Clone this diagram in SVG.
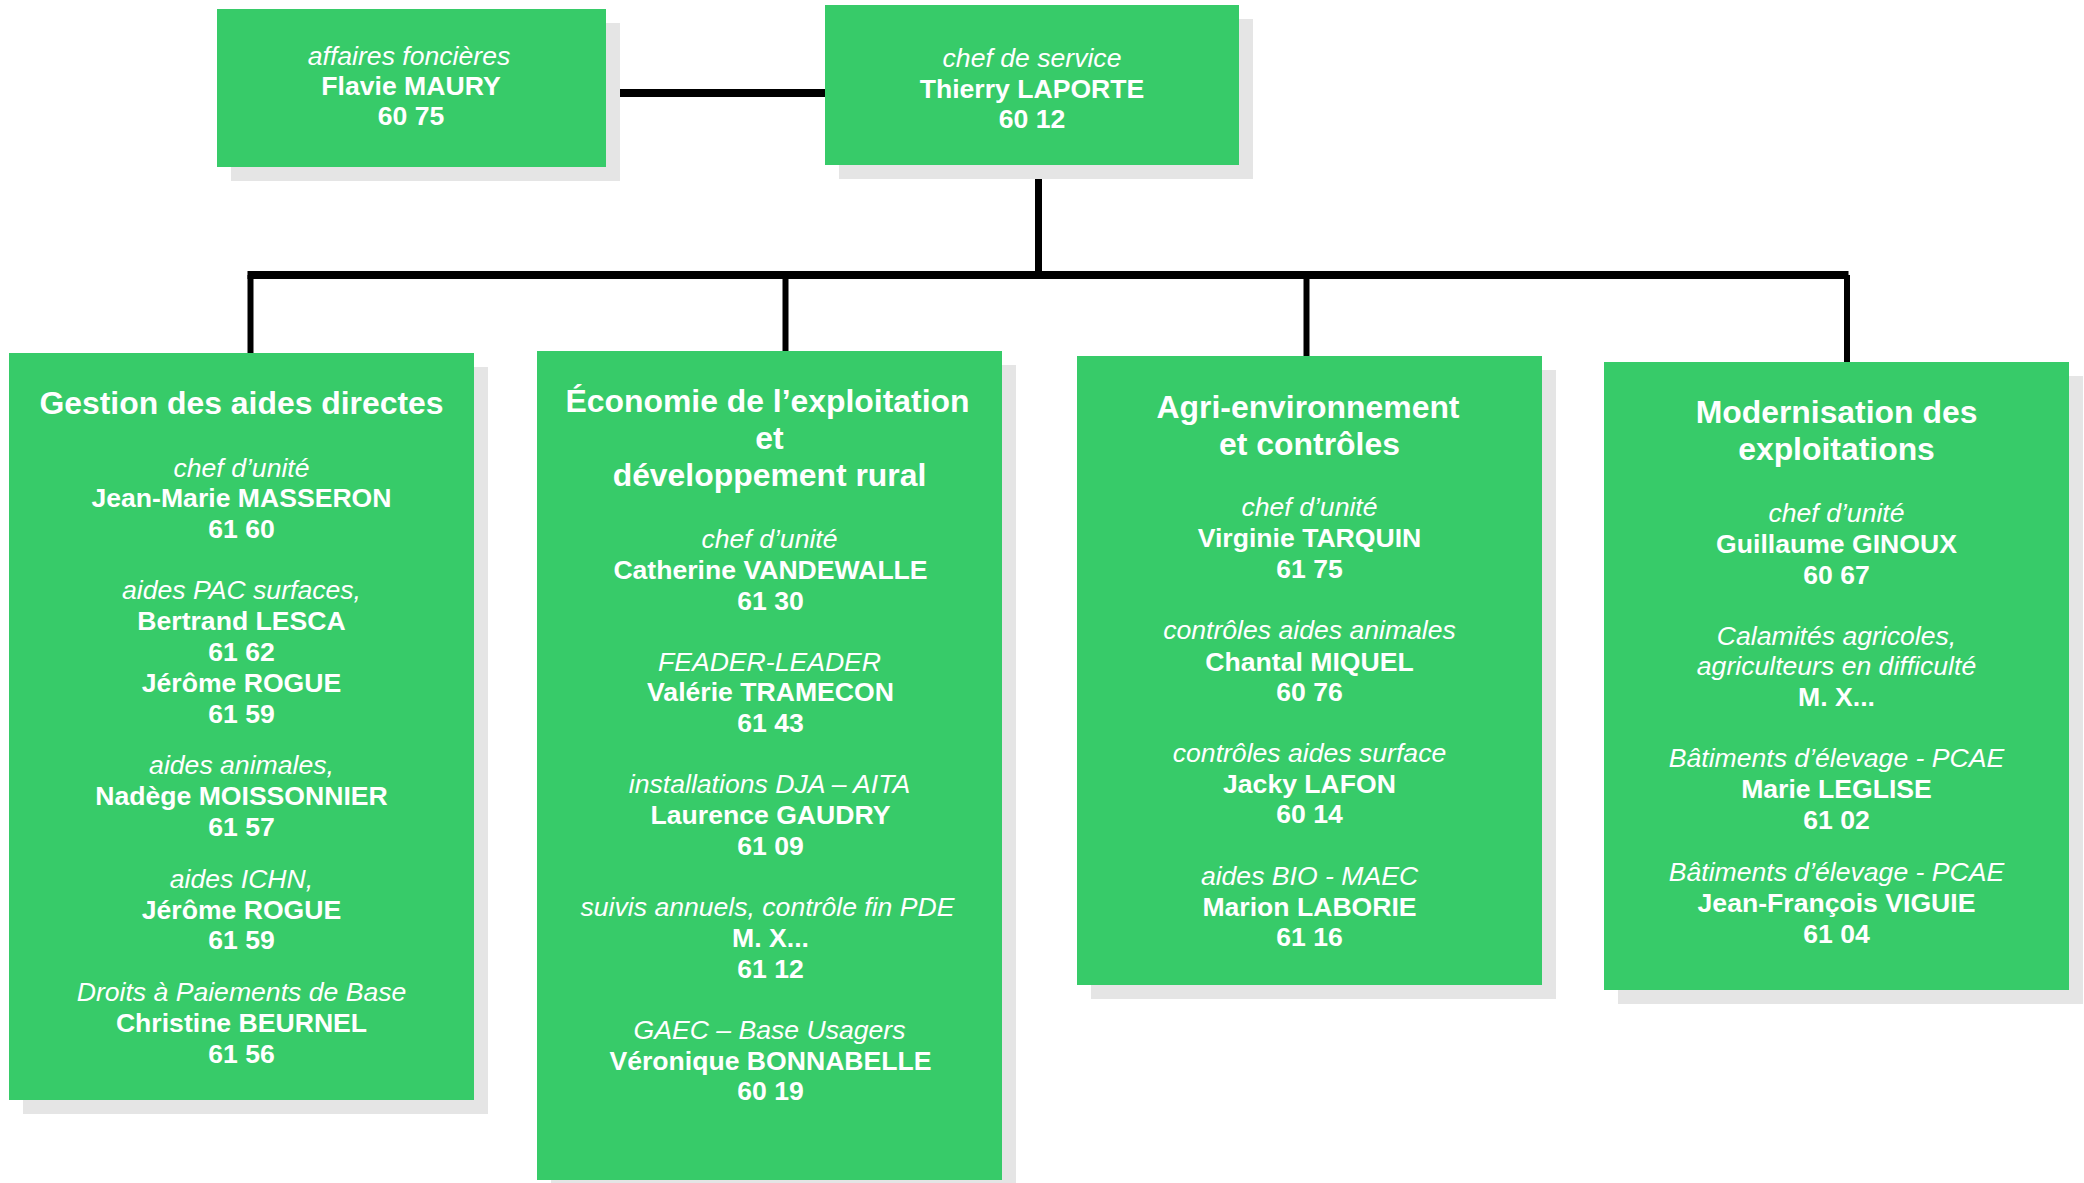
<svg xmlns="http://www.w3.org/2000/svg" width="2084" height="1183" viewBox="0 0 2084 1183">
<style>
.box{fill:#37cb69}
.sh{fill:#e5e5e5}
text{font-family:"Liberation Sans",Arial,sans-serif;fill:#ffffff;text-anchor:middle;font-size:26.6px}
.t{font-weight:bold;font-size:31.9px}
.i{font-style:italic}
.b{font-weight:bold}
.ln{stroke:#000000;fill:none}
</style>
<rect width="2084" height="1183" fill="#ffffff"/>
<g id="connectors">
<line class="ln" x1="606" y1="93" x2="826" y2="93" stroke-width="8"/>
<line class="ln" x1="1038.5" y1="165" x2="1038.5" y2="276" stroke-width="7"/>
<line class="ln" x1="247.5" y1="275" x2="1848.5" y2="275" stroke-width="8"/>
<line class="ln" x1="250.5" y1="275" x2="250.5" y2="354" stroke-width="6"/>
<line class="ln" x1="785.5" y1="275" x2="785.5" y2="352" stroke-width="6"/>
<line class="ln" x1="1306.5" y1="275" x2="1306.5" y2="357" stroke-width="6"/>
<line class="ln" x1="1847" y1="275" x2="1847" y2="363" stroke-width="6"/>
</g>
<g id="affaires">
<rect class="sh" x="231" y="23" width="389" height="158"/>
<rect class="box" x="217" y="9" width="389" height="158"/>
<text x="409" y="64.5" class="i">affaires foncières</text>
<text x="411" y="94.5" class="b">Flavie MAURY</text>
<text x="411" y="125" class="b">60 75</text>
</g>
<g id="chef">
<rect class="sh" x="839" y="19" width="414" height="160"/>
<rect class="box" x="825" y="5" width="414" height="160"/>
<text x="1032" y="66.5" class="i">chef de service</text>
<text x="1032" y="97.5" class="b">Thierry LAPORTE</text>
<text x="1032" y="128" class="b">60 12</text>
</g>
<g id="gestion">
<rect class="sh" x="23" y="367" width="465" height="747"/>
<rect class="box" x="9" y="353" width="465" height="747"/>
<text x="241.5" y="414" class="t">Gestion des aides directes</text>
<text x="241.5" y="476.5" class="i">chef d’unité</text>
<text x="241.5" y="507" class="b">Jean-Marie MASSERON</text>
<text x="241.5" y="538" class="b">61 60</text>
<text x="241.5" y="599" class="i">aides PAC surfaces,</text>
<text x="241.5" y="630" class="b">Bertrand LESCA</text>
<text x="241.5" y="661" class="b">61 62</text>
<text x="241.5" y="691.5" class="b">Jérôme ROGUE</text>
<text x="241.5" y="722.5" class="b">61 59</text>
<text x="241.5" y="774" class="i">aides animales,</text>
<text x="241.5" y="805" class="b">Nadège MOISSONNIER</text>
<text x="241.5" y="836" class="b">61 57</text>
<text x="241.5" y="888" class="i">aides ICHN,</text>
<text x="241.5" y="918.5" class="b">Jérôme ROGUE</text>
<text x="241.5" y="949" class="b">61 59</text>
<text x="241.5" y="1001" class="i">Droits à Paiements de Base</text>
<text x="241.5" y="1032" class="b">Christine BEURNEL</text>
<text x="241.5" y="1063" class="b">61 56</text>
</g>
<g id="economie">
<rect class="sh" x="551" y="365" width="465" height="830"/>
<rect class="box" x="537" y="351" width="465" height="829"/>
<text x="767.5" y="411.5" class="t">Économie de l’exploitation</text>
<text x="769.5" y="449" class="t">et</text>
<text x="769.5" y="486" class="t">développement rural</text>
<text x="769.5" y="548" class="i">chef d’unité</text>
<text x="770.5" y="579" class="b">Catherine VANDEWALLE</text>
<text x="770.5" y="609.5" class="b">61 30</text>
<text x="769.5" y="670.5" class="i">FEADER-LEADER</text>
<text x="770.5" y="701" class="b">Valérie TRAMECON</text>
<text x="770.5" y="731.5" class="b">61 43</text>
<text x="769.5" y="793" class="i">installations DJA – AITA</text>
<text x="770.5" y="824" class="b">Laurence GAUDRY</text>
<text x="770.5" y="855" class="b">61 09</text>
<text x="767.5" y="916" class="i">suivis annuels, contrôle fin PDE</text>
<text x="770.5" y="946.5" class="b">M. X...</text>
<text x="770.5" y="977.5" class="b">61 12</text>
<text x="769.5" y="1039" class="i">GAEC – Base Usagers</text>
<text x="770.5" y="1069.5" class="b">Véronique BONNABELLE</text>
<text x="770.5" y="1100" class="b">60 19</text>
</g>
<g id="agri">
<rect class="sh" x="1091" y="370" width="465" height="629"/>
<rect class="box" x="1077" y="356" width="465" height="629"/>
<text x="1308" y="418" class="t">Agri-environnement</text>
<text x="1309.5" y="455" class="t">et contrôles</text>
<text x="1309.5" y="515.5" class="i">chef d’unité</text>
<text x="1309.5" y="547" class="b">Virginie TARQUIN</text>
<text x="1309.5" y="577.5" class="b">61 75</text>
<text x="1309.5" y="639" class="i">contrôles aides animales</text>
<text x="1309.5" y="670.5" class="b">Chantal MIQUEL</text>
<text x="1309.5" y="701" class="b">60 76</text>
<text x="1309.5" y="762" class="i">contrôles aides surface</text>
<text x="1309.5" y="793" class="b">Jacky LAFON</text>
<text x="1309.5" y="823" class="b">60 14</text>
<text x="1309.5" y="885" class="i">aides BIO - MAEC</text>
<text x="1309.5" y="915.5" class="b">Marion LABORIE</text>
<text x="1309.5" y="945.5" class="b">61 16</text>
</g>
<g id="modernisation">
<rect class="sh" x="1618" y="376" width="465" height="628"/>
<rect class="box" x="1604" y="362" width="465" height="628"/>
<text x="1836.5" y="422.5" class="t">Modernisation des</text>
<text x="1836.5" y="459.5" class="t">exploitations</text>
<text x="1836.5" y="521.5" class="i">chef d’unité</text>
<text x="1836.5" y="552.5" class="b">Guillaume GINOUX</text>
<text x="1836.5" y="583.5" class="b">60 67</text>
<text x="1836.5" y="645" class="i">Calamités agricoles,</text>
<text x="1836.5" y="675" class="i">agriculteurs en difficulté</text>
<text x="1836.5" y="705.5" class="b">M. X...</text>
<text x="1836.5" y="767" class="i">Bâtiments d’élevage - PCAE</text>
<text x="1836.5" y="797.5" class="b">Marie LEGLISE</text>
<text x="1836.5" y="828.5" class="b">61 02</text>
<text x="1836.5" y="881" class="i">Bâtiments d’élevage - PCAE</text>
<text x="1836.5" y="911.5" class="b">Jean-François VIGUIE</text>
<text x="1836.5" y="943" class="b">61 04</text>
</g>
</svg>
